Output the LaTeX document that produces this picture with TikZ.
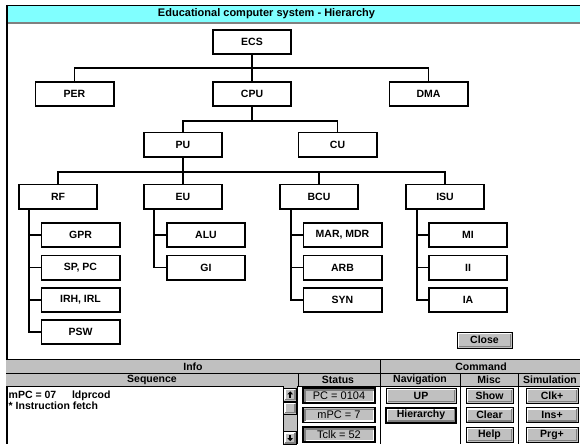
\documentclass[tikz,border=0pt]{standalone}
\usepackage{fontspec}
\setmainfont{Liberation Sans}
\definecolor{cyanbar}{RGB}{128,255,255}
\definecolor{btngray}{RGB}{192,192,192}
\definecolor{btndark}{RGB}{128,128,128}
\tikzset{
  treebox/.style={draw, line width=1.8pt, fill=white, minimum width=78.2pt, minimum height=24.2pt,
    inner sep=0pt, font=\bfseries\fontsize{10.5}{12}\selectfont},
  wire/.style={line width=1.8pt},
  hdr/.style={font=\bfseries\fontsize{10.5}{12}\selectfont, inner sep=0pt},
  raised/.style={draw=black, line width=1pt, fill=btngray, inner sep=0pt,
    font=\bfseries\fontsize{10.5}{12}\selectfont,
    path picture={
      \draw[white, line width=1.5pt] ([shift={(1.5pt,1.5pt)}]path picture bounding box.south west)
        |- ([shift={(-1.5pt,-1.5pt)}]path picture bounding box.north east);
      \draw[btndark, line width=1.5pt] ([shift={(1.5pt,1.5pt)}]path picture bounding box.south west)
        -| ([shift={(-1.5pt,-1.5pt)}]path picture bounding box.north east);
    }},
  sunken/.style={draw=black, line width=1.4pt, fill=btngray, inner sep=0pt,
    font=\fontsize{11}{13}\selectfont,
    path picture={
      \draw[white, line width=1.2pt] ([shift={(1.5pt,1.5pt)}]path picture bounding box.south west)
        -| ([shift={(-1.5pt,-1.5pt)}]path picture bounding box.north east);
      \draw[btndark, line width=1.8pt] ([shift={(2pt,1.5pt)}]path picture bounding box.south west)
        |- ([shift={(-1.5pt,-2pt)}]path picture bounding box.north east);
    }},
}
\begin{document}
\begin{tikzpicture}[x=1pt,y=-1pt]
\useasboundingbox (0,0) rectangle (580,444);
\fill[white] (0,0) rectangle (580,444);

% title bar
\fill[cyanbar] (6,5) rectangle (580,23);
\draw[line width=1.5pt] (6,5.5) -- (580,5.5);
\draw[btndark, line width=1.2pt] (6,23) -- (580,23);
\node[font=\bfseries\fontsize{11}{13}\selectfont, inner sep=0pt] (title) at (266.5,14) {Educational computer system - Hierarchy};
\draw[line width=2pt] (7,5) -- (7,444);

% tree level 0/1
\node[treebox] (ECS) at (252,42) {ECS};
\node[treebox] (PER) at (74.5,94) {PER};
\node[treebox] (CPU) at (252,94) {CPU};
\node[treebox] (DMA) at (428.5,94) {DMA};
\coordinate (b1) at (252,68);
\draw[wire] (ECS) -- (b1);
\draw[wire] (b1) -| (PER);
\draw[wire] (b1) -| (DMA);
\draw[wire] (b1) -- (CPU);

% level 2
\node[treebox] (PU) at (183,144.5) {PU};
\node[treebox] (CU) at (337.5,144.5) {CU};
\coordinate (b2) at (252,121);
\draw[wire] (CPU) -- (b2);
\draw[wire] (b2) -| (PU);
\draw[wire] (b2) -| (CU);

% level 3
\node[treebox] (RF) at (58,196.5) {RF};
\node[treebox] (EU) at (183,196.5) {EU};
\node[treebox] (BCU) at (319,196.5) {BCU};
\node[treebox] (ISU) at (445,196.5) {ISU};
\coordinate (b3) at (183,172);
\draw[wire] (PU) -- (b3);
\draw[wire] (b3) -| (RF);
\draw[wire] (b3) -| (BCU);
\draw[wire] (b3) -| (ISU);
\draw[wire] (b3) -- (EU);

% level 4
\node[treebox] (GPR) at (80.5,235) {GPR};
\node[treebox] (SPPC) at (80.5,267.5) {SP, PC};
\node[treebox] (IRH) at (80.5,300) {IRH, IRL};
\node[treebox] (PSW) at (80.5,332) {PSW};
\node[treebox] (ALU) at (206,235) {ALU};
\node[treebox] (GI) at (206,267.5) {GI};
\node[treebox] (MAR) at (342.5,235) {MAR, MDR};
\node[treebox] (ARB) at (342.5,267.5) {ARB};
\node[treebox] (SYN) at (342.5,300) {SYN};
\node[treebox] (MI) at (468,235) {MI};
\node[treebox] (II) at (468,267.5) {II};
\node[treebox] (IA) at (468,300) {IA};

\coordinate (sRF) at ([xshift=11pt]RF.south west);
\coordinate (sEU) at ([xshift=11pt]EU.south west);
\coordinate (sBCU) at ([xshift=12pt]BCU.south west);
\coordinate (sISU) at ([xshift=12pt]ISU.south west);
\foreach \c in {GPR,SPPC,IRH,PSW} \draw[wire] (sRF) |- (\c);
\foreach \c in {ALU,GI} \draw[wire] (sEU) |- (\c);
\foreach \c in {MAR,ARB,SYN} \draw[wire] (sBCU) |- (\c);
\foreach \c in {MI,II,IA} \draw[wire] (sISU) |- (\c);

% close button
\node[raised, minimum width=55pt, minimum height=16pt] (close) at (484.5,340) {Close};

% bottom panel
\fill[btngray] (6,359) rectangle (580,386);
\draw[line width=1.2pt] (6,359.5) -- (580,359.5);
\draw[line width=1pt] (6,373) -- (580,373);
\draw[line width=1pt] (6,386) -- (580,386);
\draw[line width=1pt] (380,359) -- (380,444);
\draw[line width=1pt] (298,373) -- (298,386);
\draw[line width=1pt] (460,373) -- (460,444);
\draw[line width=1pt] (518,373) -- (518,444);

\node[hdr] (info) at (193,366.5) {Info};
\node[hdr] (command) at (481,366.5) {Command};
\node[hdr] (sequence) at (152,379.5) {Sequence};
\node[hdr] (status) at (338,379.5) {Status};
\node[hdr] (nav) at (420,379.5) {Navigation};
\node[hdr] (misc) at (489,379.5) {Misc};
\node[hdr] (sim) at (550,379.5) {Simulation};

\node[anchor=north west, inner sep=0pt, align=left, font=\bfseries\fontsize{10.5}{11}\selectfont] (seq) at (8.5,391)
  {mPC = 07\hspace{1.5em}ldprcod\\* Instruction fetch};

% scrollbar
\fill[btngray] (283,386) rectangle (297.5,444);
\draw[line width=1pt] (283,386) -- (283,444);
\draw[line width=1pt] (297.5,386) -- (297.5,444);
\node[raised, minimum width=13pt, minimum height=13pt] (sup) at (290.2,394.5) {};
\node[raised, minimum width=13pt, minimum height=12pt] (thumb) at (290.2,408) {};
\node[raised, minimum width=13pt, minimum height=13pt] (sdown) at (290.2,438) {};
\fill ([yshift=3.2pt]sup.center) -- ++(2.8pt,-3pt) -- ++(-5.6pt,0pt) -- cycle;
\fill ([shift={(-0.8pt,0.2pt)}]sup.center) rectangle ([shift={(0.8pt,-3pt)}]sup.center);
\fill ([yshift=-3.2pt]sdown.center) -- ++(2.8pt,3pt) -- ++(-5.6pt,0pt) -- cycle;
\fill ([shift={(-0.8pt,-0.2pt)}]sdown.center) rectangle ([shift={(0.8pt,3pt)}]sdown.center);

% status
\node[sunken, minimum width=72pt, minimum height=15pt] (pc) at (339,395.5) {PC = 0104};
\node[sunken, minimum width=72pt, minimum height=15pt] (mpc) at (339,415) {mPC = 7};
\node[sunken, minimum width=72pt, minimum height=15pt] (tclk) at (339,434.5) {Tclk = 52};

% navigation
\node[raised, minimum width=70pt, minimum height=15pt] (up) at (421,395.5) {UP};
\node[raised, line width=2pt, minimum width=70pt, minimum height=15pt] (hier) at (421,415) {Hierarchy};

% misc
\node[raised, minimum width=47pt, minimum height=15pt] (show) at (489.5,395.5) {Show};
\node[raised, minimum width=47pt, minimum height=15pt] (clear) at (489.5,415) {Clear};
\node[raised, minimum width=47pt, minimum height=15pt] (help) at (489.5,434.5) {Help};

% simulation
\node[raised, minimum width=52pt, minimum height=15pt] (clk) at (552,395.5) {Clk+};
\node[raised, minimum width=52pt, minimum height=15pt] (ins) at (552,415) {Ins+};
\node[raised, minimum width=52pt, minimum height=15pt] (prg) at (552,434.5) {Prg+};
\end{tikzpicture}
\end{document}
